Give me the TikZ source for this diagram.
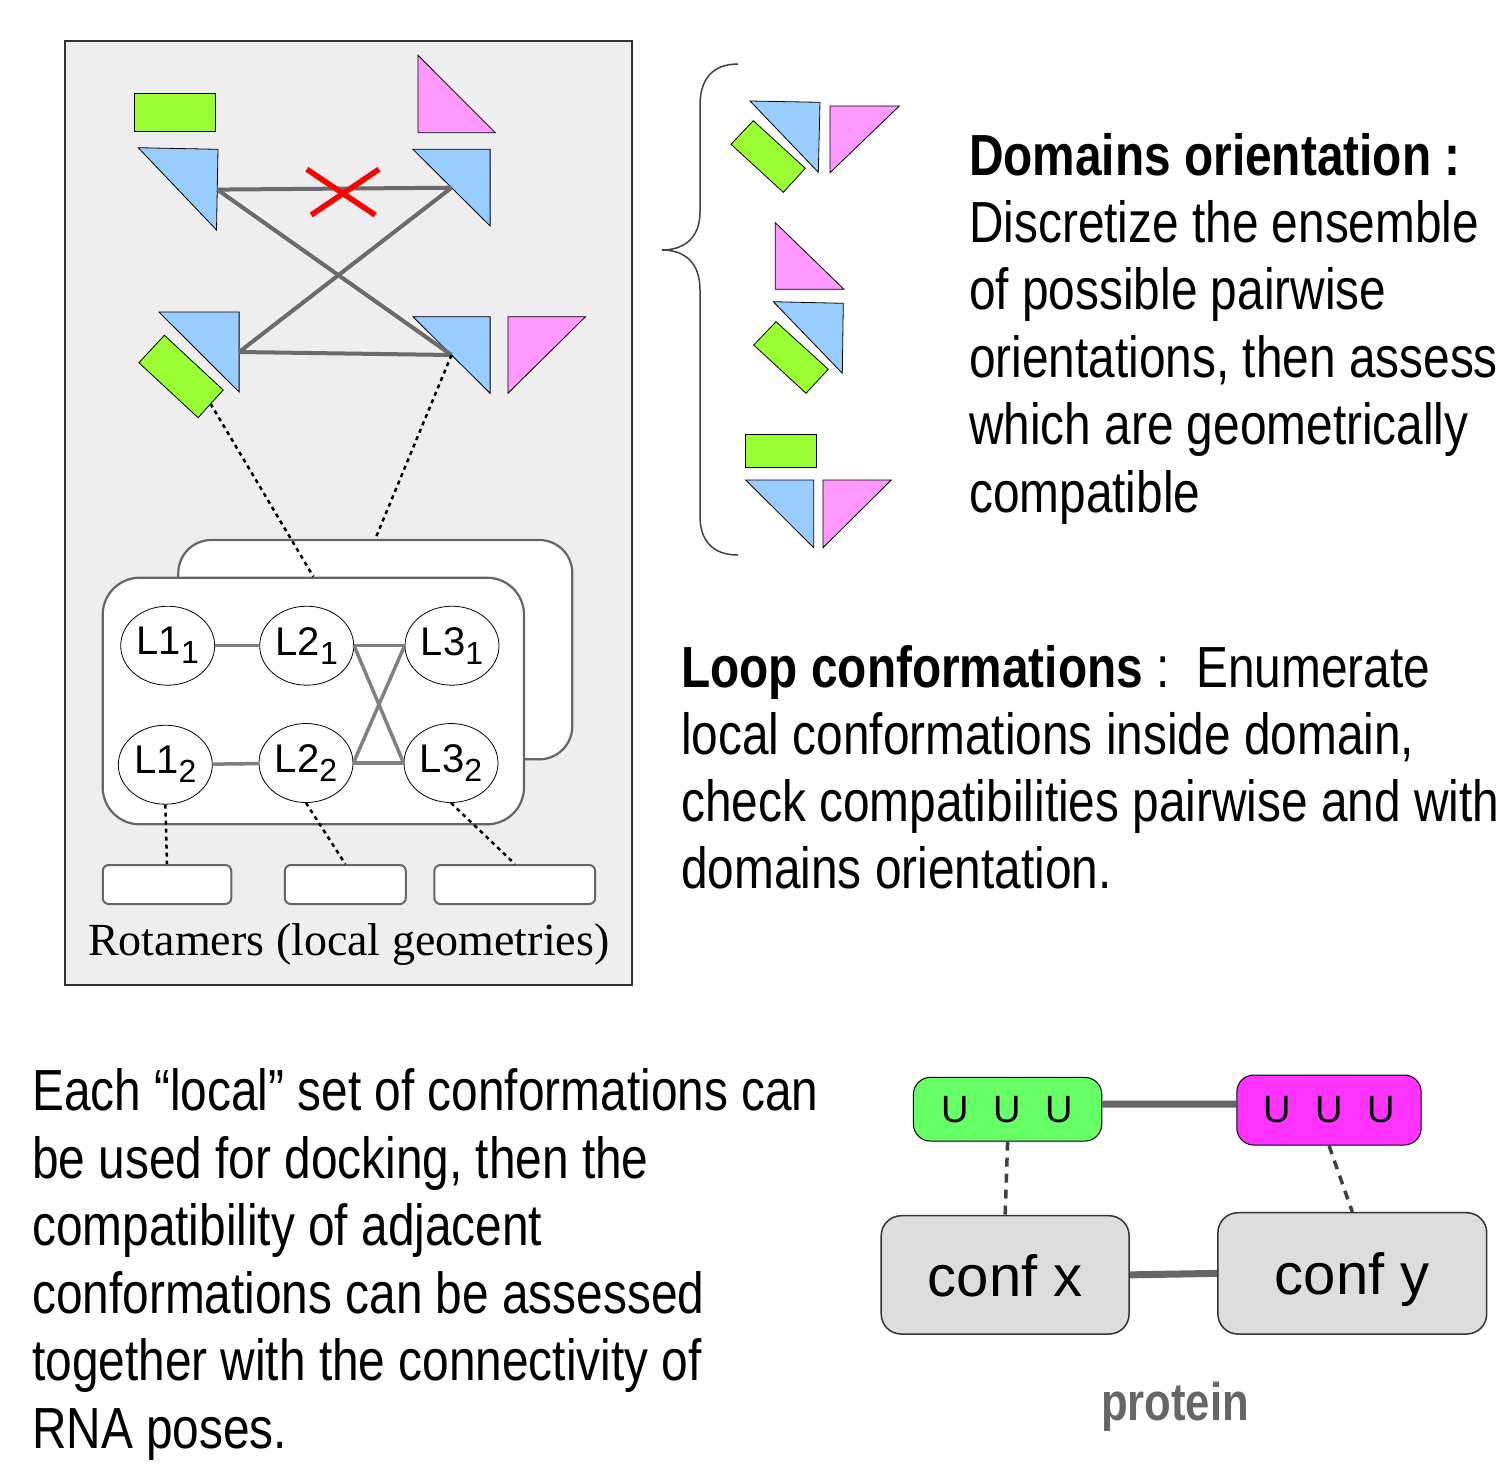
\documentclass[tikz,border=0pt]{standalone}
\usepackage{fontspec}
\setmainfont{Liberation Sans}
\newfontfamily\narrowfont{Liberation Sans}[FakeStretch=0.824]
\newfontfamily\rotfont{Liberation Serif}
\usetikzlibrary{shapes.geometric}

\definecolor{cblue}{HTML}{99CCFF}
\definecolor{cpink}{HTML}{FF99FF}
\definecolor{cgreen}{HTML}{99FF33}
\definecolor{ugreen}{HTML}{66FF66}
\definecolor{umag}{HTML}{FF33FF}
\definecolor{panelbg}{HTML}{EEEEEE}
\definecolor{confbg}{HTML}{DDDDDD}

\tikzset{
 piece/.style={draw=black, line width=0.8pt, line join=miter},
 graylink/.style={draw=black!58, line width=4pt},
 redx/.style={draw=red, line width=5.5pt},
 dotlink/.style={draw=black, line width=2.5pt, dash pattern=on 4pt off 4pt},
 loopnode/.style={ellipse, draw=black, line width=0.8pt, fill=white, minimum width=94pt, minimum height=79pt, inner sep=0pt, font=\fontsize{40}{40}\selectfont},
 looplink/.style={draw=black!50, line width=3.5pt},
 loopbox/.style={rectangle, draw=black!60, line width=2.2pt, fill=white, inner sep=0pt},
 rotbox/.style={rectangle, draw=black!60, line width=2pt, fill=white, rounded corners=6pt, minimum height=39pt, inner sep=0pt},
 txt/.style={anchor=base west, inner sep=0pt, font=\narrowfont\fontsize{58}{67}\selectfont},
 ubox/.style={rectangle, draw=black, line width=1pt, rounded corners=17pt, inner sep=0pt, font=\fontsize{38}{38}\selectfont},
 confbox/.style={rectangle, draw=black!80, line width=1.5pt, fill=confbg, rounded corners=20pt, inner sep=0pt, text height=43pt, text depth=0pt, font=\fontsize{58}{58}\selectfont},
 thicklink/.style={draw=black!60, line width=7pt},
 dashlink/.style={draw=black!75, line width=3.5pt, dash pattern=on 9pt off 7pt},
 bracestyle/.style={draw=black!75, line width=1.5pt},
}
\newcommand{\Lsub}[2]{L#1\raisebox{-9pt}{\fontsize{32}{32}\selectfont #2}}

\begin{document}
\begin{tikzpicture}[x=1pt,y=-1pt]
\useasboundingbox (0,0) rectangle (1503,1467);

% ---------- left panel ----------
\node[rectangle, draw=black!80, line width=1.5pt, fill=panelbg, minimum width=567pt, minimum height=944pt, inner sep=0pt] (panel) at (348.5,513) {};

% domain pieces
\filldraw[piece, fill=cgreen] (134.5,93.3) rectangle (215.5,131.3);
\filldraw[piece, fill=cpink] (418,55.3) -- (418,132.7) -- (495.3,132.7) -- cycle;
\filldraw[piece, fill=cblue] (138.2,147.7) -- (218,149.3) -- (216.5,230) -- cycle;
\filldraw[piece, fill=cblue] (412.9,149.3) -- (490.1,149.3) -- (490.1,226) -- cycle;
\filldraw[piece, fill=cblue] (158.9,312) -- (239.1,312) -- (239.1,392) -- cycle;
\filldraw[piece, fill=cgreen] (138.9,362.7) -- (164.4,335.3) -- (223.2,390) -- (198.1,417.7) -- cycle;
\filldraw[piece, fill=cblue] (412.9,316.7) -- (490.1,316.7) -- (490.1,393.3) -- cycle;
\filldraw[piece, fill=cpink] (507.9,316.7) -- (585.5,316.7) -- (507.9,393.3) -- cycle;

\coordinate (tl) at (217.3,189.6);
\coordinate (tr) at (451.5,187.7);
\coordinate (bl) at (239.1,352);
\coordinate (br) at (451.5,355);
\coordinate (gedge) at (210.6,403.8);

\draw[graylink] (tl) -- (tr);
\draw[graylink] (tl) -- (br);
\draw[graylink] (tr) -- (bl);
\draw[graylink] (bl) -- (br);

\draw[redx] (306.8,169.3) -- (375.2,215);
\draw[redx] (311.2,215) -- (378.9,169.3);

% loop boxes
\node[loopbox, rounded corners=33pt, minimum width=394pt, minimum height=219.3pt] (back) at (375.3,649.65) {};
\node[loopbox, rounded corners=37pt, minimum width=421.3pt, minimum height=246.6pt] (front) at (313.35,701) {};

\node[loopnode] (L11) at (167.7,645.7) {\Lsub{1}{1}};
\node[loopnode] (L21) at (306.7,645.7) {\Lsub{2}{1}};
\node[loopnode] (L31) at (452,645.7) {\Lsub{3}{1}};
\node[loopnode] (L12) at (165.3,764.7) {\Lsub{1}{2}};
\node[loopnode] (L22) at (306,763) {\Lsub{2}{2}};
\node[loopnode] (L32) at (451,763) {\Lsub{3}{2}};

\draw[looplink] (L11) -- (L21);
\draw[looplink] (L12) -- (L22);
\draw[looplink] (L21.east) -- (L31.west);
\draw[looplink] (L22.east) -- (L32.west);
\draw[looplink] (L21.east) -- (L32.west);
\draw[looplink] (L22.east) -- (L31.west);

\draw[dotlink] (gedge) -- (front.north);
\draw[dotlink] (br) -- (back.north);

% rotamers
\node[rotbox, minimum width=128.5pt] (rot1) at (167,884.5) {};
\node[rotbox, minimum width=121pt] (rot2) at (345.3,884.5) {};
\node[rotbox, minimum width=160.8pt] (rot3) at (514.8,884.5) {};

\draw[dotlink] (L12.south) -- (rot1.north);
\draw[dotlink] (L22.south) -- (rot2.north);
\draw[dotlink] (L32.south) -- (rot3.north);

\node[anchor=base west, inner sep=0pt, font=\rotfont\fontsize{46}{46}\selectfont] (rottxt) at (88,955) {Rotamers (local geometries)};

% ---------- brace and orientation examples ----------
\draw[bracestyle] (738,64) .. controls (712,64) and (700,80) .. (700,105) -- (700,212)
  .. controls (700,237) and (685,250) .. (662,250)
  .. controls (685,250) and (700,263) .. (700,290) -- (700,516)
  .. controls (700,540) and (712,555) .. (738,555);

\filldraw[piece, fill=cblue] (750,101) -- (820,102.3) -- (818.3,172.3) -- cycle;
\filldraw[piece, fill=cpink] (830,106) -- (899.3,106) -- (830,172.7) -- cycle;
\filldraw[piece, fill=cgreen] (731,144.3) -- (753.3,120.7) -- (805.3,168.3) -- (783.3,192.3) -- cycle;

\filldraw[piece, fill=cpink] (775.3,222.7) -- (775.3,289.3) -- (844,289.3) -- cycle;
\filldraw[piece, fill=cblue] (773.3,301.7) -- (843.3,303.3) -- (842.3,373.3) -- cycle;
\filldraw[piece, fill=cgreen] (753.7,345) -- (776,321.7) -- (828.3,369.3) -- (806,393.3) -- cycle;

\filldraw[piece, fill=cgreen] (745.7,434.3) rectangle (816.3,467.3);
\filldraw[piece, fill=cblue] (745.7,480) -- (813.7,480) -- (813.7,547.7) -- cycle;
\filldraw[piece, fill=cpink] (823,480) -- (891.3,480) -- (823,547.7) -- cycle;

% ---------- texts ----------
\node[txt] (d1) at (969,175) {\bfseries Domains orientation :};
\node[txt] (d2) at (969,242) {Discretize the ensemble};
\node[txt] (d3) at (969,309) {of possible pairwise};
\node[txt] (d4) at (969,377) {orientations, then assess};
\node[txt] (d5) at (969,444) {which are geometrically};
\node[txt] (d6) at (969,512) {compatible};

\node[txt] (l1) at (681,687) {\textbf{Loop conformations} :\ \ Enumerate};
\node[txt] (l2) at (681,754) {local conformations inside domain,};
\node[txt] (l3) at (681,821) {check compatibilities pairwise and with};
\node[txt] (l4) at (681,888) {domains orientation.};

\node[txt] (e1) at (32,1110) {Each “local” set of conformations can};
\node[txt] (e2) at (32,1178) {be used for docking, then the};
\node[txt] (e3) at (32,1245) {compatibility of adjacent};
\node[txt] (e4) at (32,1313) {conformations can be assessed};
\node[txt] (e5) at (32,1380) {together with the connectivity of};
\node[txt] (e6) at (32,1448) {RNA poses.};

% ---------- bottom right ----------
\node[ubox, fill=ugreen, minimum width=188.4pt, minimum height=63.7pt] (ug) at (1007.6,1109.2) {U \hspace{14pt}U \hspace{14pt}U};
\node[ubox, fill=umag, minimum width=184.4pt, minimum height=70pt] (um) at (1329,1110) {U \hspace{14pt}U \hspace{14pt}U};
\node[confbox, minimum width=247.9pt, minimum height=118.3pt] (confx) at (1005.15,1274.85) {conf x};
\node[confbox, minimum width=268.8pt, minimum height=121.3pt] (confy) at (1352.3,1273.35) {conf y};

\draw[thicklink] ([yshift=5pt]ug.east) -- ([yshift=6pt]um.west);
\draw[thicklink] (confx.east) -- (confy.west);
\draw[dashlink] (ug.south) -- (confx.north);
\draw[dashlink] (um.south) -- (confy.north);

\node[anchor=base, inner sep=0pt, text=black!60, font=\narrowfont\bfseries\fontsize{53}{53}\selectfont] (prot) at (1175,1420) {protein};
\end{tikzpicture}
\end{document}
